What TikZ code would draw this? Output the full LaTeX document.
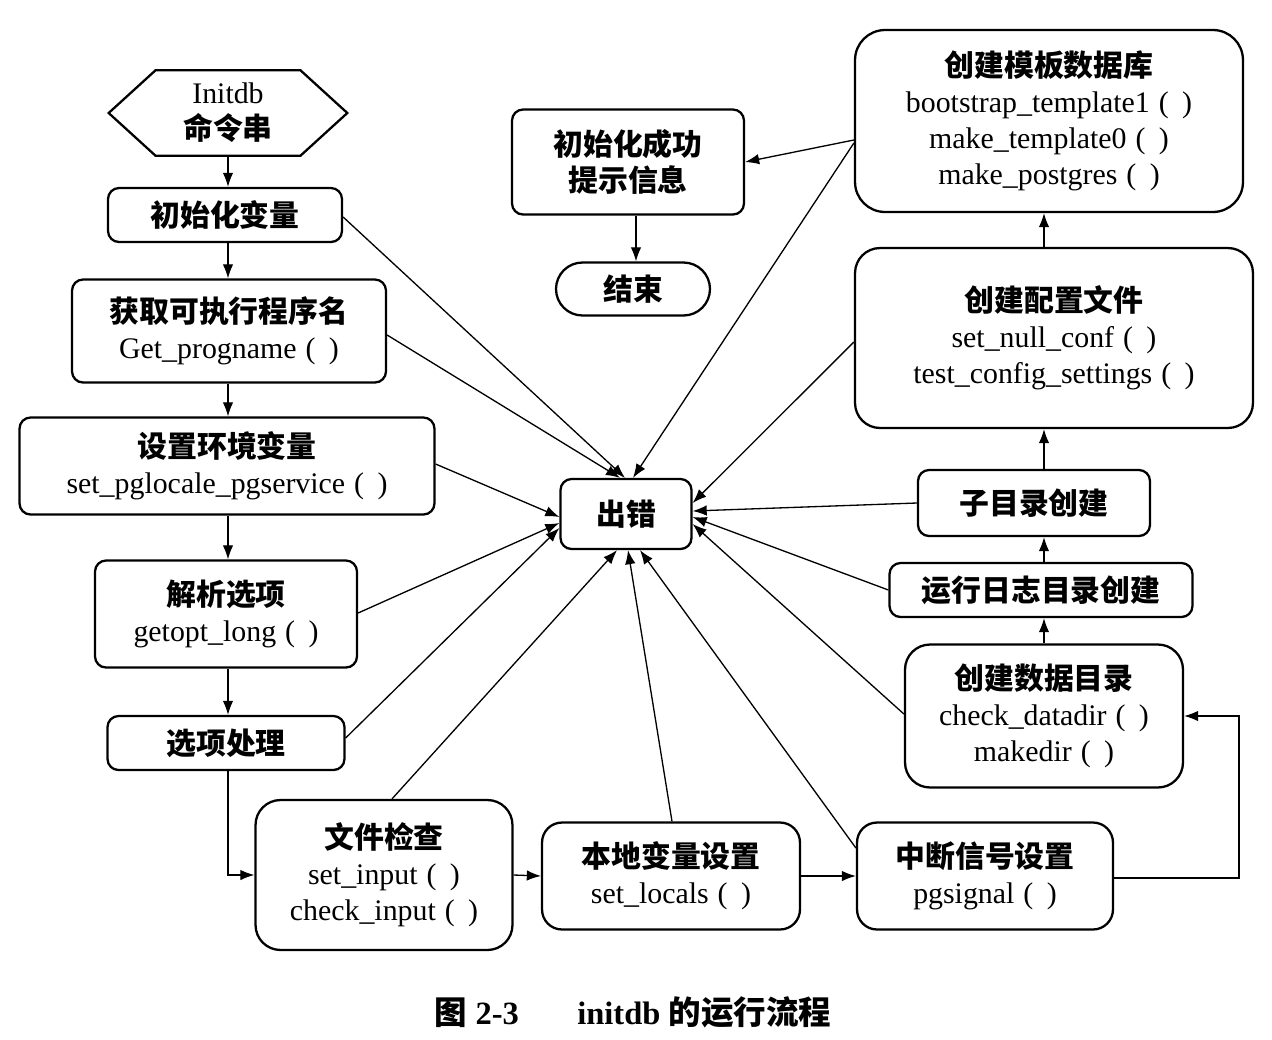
\documentclass[tikz,border=0pt]{standalone}
\usepackage{fontspec}
\setmainfont{Liberation Serif}
\newfontfamily\cjk{Noto Sans CJK SC}
\usetikzlibrary{arrows.meta,calc}
\newcommand\zhtxt[1]{{\cjk\bfseries #1}}
\newcommand\kuohao{\hspace{0.3em}(\hspace{0.45em})}

\tikzset{
  box/.style={draw, line width=1.3pt, rounded corners=0.22cm, align=center,
    inner sep=0pt, font=\fontsize{17}{20.5}\selectfont},
  bigbox/.style={box, rounded corners=0.5cm},
  link/.style={line width=0.75pt, -{Latex[length=8pt,width=6pt]}},
  plain/.style={line width=0.75pt}
}

\begin{document}
\begin{tikzpicture}[x=0.02cm, y=-0.02cm]
\useasboundingbox (0,0) rectangle (1272,1039);

% left column
\node (init) [align=center, inner sep=0pt, minimum width=4.76cm, minimum height=1.7cm,
  font=\fontsize{17}{20.5}\selectfont] at (228,113) {Initdb\\\zhtxt{命令串}};
\draw[line width=1.3pt] (init.west) -- ($(init.north west)+(47,0)$) -- ($(init.north east)+(-47,0)$)
  -- (init.east) -- ($(init.south east)+(-47,0)$) -- ($(init.south west)+(47,0)$) -- cycle;

\node (v1) [box, minimum width=4.68cm, minimum height=1.08cm] at (225,215) {\zhtxt{初始化变量}};
\node (v2) [box, minimum width=6.28cm, minimum height=2.06cm] at (229,331)
  {\zhtxt{获取可执行程序名}\\Get\_progname\kuohao};
\node (v3) [box, minimum width=8.3cm, minimum height=1.94cm] at (227,466)
  {\zhtxt{设置环境变量}\\set\_pglocale\_pgservice\kuohao};
\node (v4) [box, minimum width=5.24cm, minimum height=2.14cm] at (226,614)
  {\zhtxt{解析选项}\\getopt\_long\kuohao};
\node (v5) [box, minimum width=4.74cm, minimum height=1.08cm] at (226,743) {\zhtxt{选项处理}};

% bottom row
\node (f1) [bigbox, minimum width=5.14cm, minimum height=3.0cm] at (384,875)
  {\zhtxt{文件检查}\\set\_input\kuohao\\check\_input\kuohao};
\node (f2) [box, rounded corners=0.4cm, minimum width=5.16cm, minimum height=2.14cm] at (671,876)
  {\zhtxt{本地变量设置}\\set\_locals\kuohao};
\node (f3) [box, rounded corners=0.4cm, minimum width=5.12cm, minimum height=2.14cm] at (985,876)
  {\zhtxt{中断信号设置}\\pgsignal\kuohao};

% right column
\node (r1) [bigbox, minimum width=5.56cm, minimum height=2.86cm] at (1044,716)
  {\zhtxt{创建数据目录}\\check\_datadir\kuohao\\makedir\kuohao};
\node (r2) [box, minimum width=6.06cm, minimum height=1.08cm] at (1041,590) {\zhtxt{运行日志目录创建}};
\node (r3) [box, minimum width=4.64cm, minimum height=1.32cm] at (1034,503) {\zhtxt{子目录创建}};
\node (r4) [bigbox, minimum width=7.96cm, minimum height=3.6cm] at (1054,338)
  {\zhtxt{创建配置文件}\\set\_null\_conf\kuohao\\test\_config\_settings\kuohao};
\node (r5) [bigbox, rounded corners=0.6cm, minimum width=7.76cm, minimum height=3.64cm] at (1049,121)
  {\zhtxt{创建模板数据库}\\bootstrap\_template1\kuohao\\make\_template0\kuohao\\make\_postgres\kuohao};

% centre
\node (ok) [box, minimum width=4.64cm, minimum height=2.1cm] at (628,162) {\zhtxt{初始化成功}\\\zhtxt{提示信息}};
\node (end) [box, rounded corners=0.53cm, minimum width=3.08cm, minimum height=1.06cm] at (633,289) {\zhtxt{结束}};
\node (err) [box, minimum width=2.62cm, minimum height=1.4cm] at (626,514) {\zhtxt{出错}};

% caption
\node (cap) [font=\fontsize{18.5}{22}\selectfont] at (633,1012)
  {\zhtxt{图} \textbf{2-3}\hspace{1.8em}\textbf{initdb} \zhtxt{的运行流程}};

% main flow
\draw[link] (init.south -| v1.north) ++(3,0) -- ($(v1.north)+(3,0)$);
\draw[link] ($(v1.south)+(3,0)$) -- ($(v1.south |- v2.north)+(3,0)$);
\draw[link] ($(v1.south |- v2.south)+(3,0)$) -- ($(v1.south |- v3.north)+(3,0)$);
\draw[link] ($(v1.south |- v3.south)+(3,0)$) -- ($(v1.south |- v4.north)+(3,0)$);
\draw[link] ($(v1.south |- v4.south)+(3,0)$) -- ($(v1.south |- v5.north)+(3,0)$);
\draw[link] ($(v1.south |- v5.south)+(3,0)$) |- (f1.west);
\draw[link] (f1.east) -- (f2.west);
\draw[link] (f2.east) -- (f3.west);
\draw[link] ($(f3.east)+(0,2)$) -- ++(125,0) |- (r1.east);
\draw[link] (r1.north) -- (r1.north |- r2.south);
\draw[link] (r1.north |- r2.north) -- (r1.north |- r3.south);
\draw[link] (r1.north |- r3.north) -- (r1.north |- r4.south);
\draw[link] (r1.north |- r4.north) -- (r1.north |- r5.south);
\draw[link] ($(r5.west)+(0,19)$) -- (ok.east);
\draw[link] (end.north |- ok.south) ++(3,0) -- ($(end.north)+(3,0)$);

% error paths
\draw[link] ($(v1.east)+(0,2)$) -- ($(err.north)+(-1,0)$);
\draw[link] ($(v2.east)+(0,4)$) -- ($(err.north)+(-6,0)$);
\draw[link] ($(r5.west)+(0,22)$) -- ($(err.north)+(7,0)$);
\draw[link] ($(v3.east)+(0,-2)$) -- ($(err.west)+(0,3)$);
\draw[link] ($(v4.east)+(0,-1)$) -- ($(err.west)+(0,9)$);
\draw[link] ($(v5.east)+(0,-5)$) -- ($(err.west)+(0,14)$);
\draw[link] ($(f1.north)+(8,0)$) -- ($(err.south)+(-9,0)$);
\draw[link] ($(f2.north)+(1,0)$) -- ($(err.south)+(2,0)$);
\draw[link] ($(f3.west)+(0,-28)$) -- ($(err.south)+(14,0)$);
\draw[link] ($(r4.west)+(0,4)$) -- ($(err.east)+(0,-11)$);
\draw[link] (r3.west) -- ($(err.east)+(0,-3)$);
\draw[link] (r2.west) -- ($(err.east)+(0,3)$);
\draw[link] ($(r1.west)+(0,-2)$) -- ($(err.east)+(0,10)$);
\end{tikzpicture}
\end{document}
